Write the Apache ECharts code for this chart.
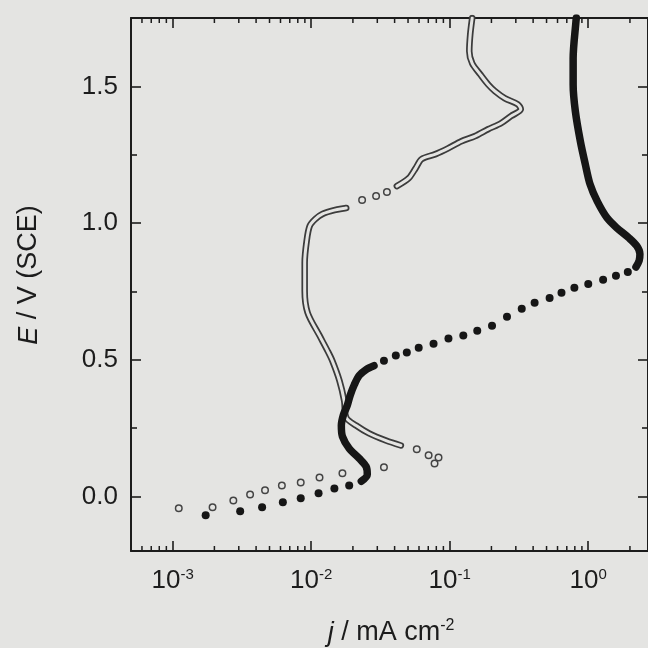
<!DOCTYPE html>
<html><head><meta charset="utf-8">
<script src="https://cdn.jsdelivr.net/npm/echarts@6/dist/echarts.min.js"></script>
<style>html,body{margin:0;padding:0;background:#e4e4e2;} #c{width:648px;height:648px;}</style>
</head><body><div id="c"></div>
<script>
// ---- axis ranges / ticks ----
const xMin = 5e-4, xMax = 2.7;
const yMin = -0.2, yMax = 1.75;
const yTickLabels = ['0.0', '0.5', '1.0', '1.5'];
const xMinorTicks = [];
for (let e = -4; e <= 0; e++) for (let k = 2; k <= 9; k++) {
  const v = k * Math.pow(10, e);
  if (v > xMin && v < xMax) xMinorTicks.push([v, 0]);
}

// ---- filled-circle series ([j mA cm^-2, E V]) ----
const filledDots = [
  [1.73e-3,-0.069],[3.07e-3,-0.055],[4.42e-3,-0.040],[6.24e-3,-0.022],[8.4e-3,-0.007],
  [0.0113,0.011],[0.0147,0.029],[0.0188,0.040],
  [0.0335,0.496],[0.0408,0.515],[0.0490,0.526],[0.0597,0.544],[0.0764,0.558],[0.0979,0.577],
  [0.1253,0.588],[0.158,0.606],[0.202,0.624],[0.259,0.657],[0.331,0.686],[0.410,0.708],
  [0.526,0.726],[0.641,0.745],[0.794,0.763],[1.0,0.777],[1.28,0.792],[1.585,0.807],[1.93,0.821]
];
const filledLowerCurve = [
  [0.0230,0.055],[0.0254,0.080],[0.0249,0.109],[0.0222,0.139],[0.0188,0.175],[0.0168,0.219],
  [0.0165,0.259],[0.0171,0.299],[0.0182,0.332],[0.0191,0.369],[0.0205,0.409],[0.0222,0.442],
  [0.0249,0.464],[0.0284,0.478]
];
const filledUpperCurve = [
  [2.21,0.839],[2.33,0.862],[2.36,0.887],[2.24,0.916],[1.97,0.945],[1.61,0.982],[1.37,1.018],
  [1.16,1.080],[1.03,1.142],[0.952,1.215],[0.877,1.299],[0.807,1.409],[0.778,1.507],
  [0.778,1.602],[0.815,1.737],[0.82,1.75]
];

// ---- open-circle series ----
const openDots = [
  [1.106e-3,-0.044],[1.94e-3,-0.040],[2.74e-3,-0.015],[3.62e-3,0.007],[4.64e-3,0.022],
  [6.14e-3,0.040],[8.4e-3,0.051],[0.01148,0.069],[0.0168,0.084],[0.0335,0.106],
  [0.0578,0.172],[0.0704,0.150],[0.083,0.142],[0.0777,0.120],
  [0.0233,1.084],[0.0294,1.099],[0.0352,1.113]
];
const openLowerCurve = [
  [0.0444,0.186],[0.0347,0.204],[0.0262,0.230],[0.0211,0.259],[0.0179,0.288],[0.0173,0.350],
  [0.0160,0.423],[0.0142,0.496],[0.0131,0.533],[0.01148,0.588],[0.00942,0.672],[0.00897,0.752],
  [0.00897,0.854],[0.00927,0.934],[0.00975,0.989],[0.01074,1.015],[0.01207,1.033],
  [0.01469,1.047],[0.0179,1.055]
];
const openUpperCurve = [
  [0.0415,1.135],[0.0506,1.164],[0.0568,1.201],[0.0627,1.234],[0.0790,1.252],[0.0979,1.274],
  [0.1213,1.299],[0.1527,1.318],[0.1892,1.343],[0.2344,1.365],[0.2766,1.391],[0.326,1.416],
  [0.3104,1.434],[0.2505,1.456],[0.2124,1.482],[0.1892,1.507],[0.1659,1.544],[0.1453,1.584],
  [0.1384,1.628],[0.1406,1.690],[0.1453,1.75]
];

const BG = '#e4e4e2', INK = '#1c1c1c', FONT = '"Liberation Sans", Arial, sans-serif';
const chart = echarts.init(document.getElementById('c'));

function xAxisCfg(pos, labels) {
  return {
    type: 'log', logBase: 10, min: xMin, max: xMax, position: pos,
    axisLine: { show: true, onZero: false, lineStyle: { color: INK, width: 2 } },
    axisTick: { show: true, inside: true, length: 10, lineStyle: { color: INK, width: 1.6 } },
    splitLine: { show: false },
    axisLabel: {
      show: labels, margin: 16, showMinLabel: false, showMaxLabel: false,
      formatter: v => '{b|10}{s|' + Math.round(Math.log10(v)) + '}',
      rich: {
        b: { fontSize: 26, fontFamily: FONT, color: INK, lineHeight: 28 },
        s: { fontSize: 15, fontFamily: FONT, color: INK, verticalAlign: 'top', lineHeight: 15 }
      }
    }
  };
}
function yAxisCfg(pos, labels) {
  return {
    type: 'value', min: yMin, max: yMax, splitNumber: 4, position: pos,
    axisLine: { show: true, onZero: false, lineStyle: { color: INK, width: 2 } },
    axisTick: { show: true, inside: true, length: 10, lineStyle: { color: INK, width: 1.6 } },
    minorTick: { show: true, splitNumber: 2, length: 6, lineStyle: { color: INK, width: 1.6 } },
    splitLine: { show: false }, minorSplitLine: { show: false },
    axisLabel: {
      show: labels, margin: 13, showMinLabel: false, showMaxLabel: false,
      fontSize: 26, fontFamily: FONT, color: INK,
      formatter: v => { const s = v.toFixed(1); return yTickLabels.includes(s) ? s : ''; }
    }
  };
}

chart.setOption({
  backgroundColor: BG,
  animation: false,
  grid: { left: 131, top: 18, width: 521, height: 533, containLabel: false },
  xAxis: [xAxisCfg('bottom', true), xAxisCfg('top', false)],
  yAxis: [yAxisCfg('left', true), yAxisCfg('right', false)],
  graphic: [
    { type: 'text', x: 391, y: 633, silent: true,
      style: { text: '{i|j} / mA cm{s|-2}', align: 'center', verticalAlign: 'middle',
        rich: { i: { fontSize: 27, fontStyle: 'italic', fontFamily: FONT, fill: INK, lineHeight: 30 },
                s: { fontSize: 16, fontFamily: FONT, fill: INK, verticalAlign: 'top', lineHeight: 16 } },
        font: '27px ' + FONT, fill: INK } },
    { type: 'text', x: 29, y: 275, rotation: Math.PI / 2, silent: true,
      style: { text: '{i|E} / V (SCE)', align: 'center', verticalAlign: 'middle',
        rich: { i: { fontSize: 27, fontStyle: 'italic', fontFamily: FONT, fill: INK } },
        font: '27px ' + FONT, fill: INK } }
  ],
  series: [
    { type: 'custom', name: 'xMinor', coordinateSystem: 'cartesian2d', silent: true, clip: false,
      data: xMinorTicks, encode: { x: 0, y: 1 },
      renderItem: (params, api) => {
        const v = api.value(0);
        const b = api.coord([v, yMin]), t = api.coord([v, yMax]);
        const st = { stroke: INK, lineWidth: 1.5 };
        return { type: 'group', children: [
          { type: 'line', shape: { x1: b[0], y1: b[1], x2: b[0], y2: b[1] - 5 }, style: st },
          { type: 'line', shape: { x1: t[0], y1: t[1], x2: t[0], y2: t[1] + 5 }, style: st }
        ] };
      } },
    ...[openLowerCurve, openUpperCurve].flatMap(d => [
      { type: 'line', data: d, smooth: 0.3, showSymbol: false, silent: true,
        lineStyle: { color: '#3c3c3c', width: 6.5, cap: 'round', join: 'round' } },
      { type: 'line', data: d, smooth: 0.3, showSymbol: false, silent: true,
        lineStyle: { color: BG, width: 3, cap: 'round', join: 'round' } }
    ]),
    { type: 'scatter', data: openDots, symbol: 'circle', symbolSize: 6.5, silent: true,
      itemStyle: { color: BG, borderColor: '#444', borderWidth: 1.5, opacity: 1 } },
    ...[filledLowerCurve, filledUpperCurve].map(d => (
      { type: 'line', data: d, smooth: 0.3, showSymbol: false, silent: true,
        lineStyle: { color: '#161616', width: 7.5, cap: 'round', join: 'round' } })),
    { type: 'scatter', data: filledDots, symbol: 'circle', symbolSize: 8, silent: true,
      itemStyle: { color: '#161616', opacity: 1 } }
  ]
});
</script></body></html>
